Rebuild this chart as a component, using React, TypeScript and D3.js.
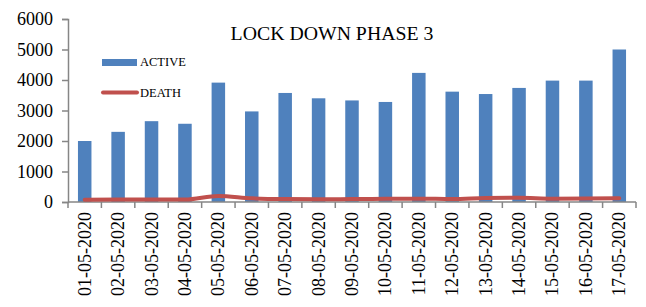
import React, { useEffect, useRef } from 'react';
import * as d3 from 'd3';

const DATES = [
    '01-05-2020', '02-05-2020', '03-05-2020', '04-05-2020', '05-05-2020', '06-05-2020',
    '07-05-2020', '08-05-2020', '09-05-2020', '10-05-2020', '11-05-2020', '12-05-2020',
    '13-05-2020', '14-05-2020', '15-05-2020', '16-05-2020', '17-05-2020',
];
const ACTIVE = [2000, 2300, 2650, 2565, 3914, 2970, 3575, 3400, 3330, 3280, 4233, 3618, 3540, 3740, 3980, 3980, 5000];
const DEATH = [75, 80, 85, 80, 200, 120, 95, 90, 95, 110, 110, 95, 130, 140, 110, 115, 125];
const Y_TICKS = [0, 1000, 2000, 3000, 4000, 5000, 6000];

const FONT = '"Liberation Serif", "Times New Roman", serif';
const AXIS_COLOR = '#868686';

export default function App()
{
    const svgRef = useRef(null);

    useEffect(() =>
    {
        const width = 646;
        const height = 307;
        const margin = { left: 68, right: 10, top: 19, bottom: 105 };
        const innerWidth = 636 - margin.left;
        const innerHeight = 202 - margin.top;

        const svg = d3.select(svgRef.current);
        svg.selectAll('*').remove();
        svg.attr('width', width).attr('height', height);

        const g = svg.append('g').attr('transform', `translate(${ margin.left },${ margin.top })`);

        const y = d3.scaleLinear().domain([0, 6000]).range([innerHeight, 0]);
        const step = innerWidth / DATES.length;

        // bars
        g.selectAll('rect.bar')
            .data(ACTIVE)
            .join('rect')
            .attr('class', 'bar')
            .attr('x', (d, i) => i * step + step / 2 - 6.75)
            .attr('width', 13.5)
            .attr('y', (d) => y(d))
            .attr('height', (d) => innerHeight - y(d))
            .attr('fill', '#4F81BD');

        // y axis
        const yAxis = g.append('g')
            .call(d3.axisLeft(y).tickValues(Y_TICKS).tickSize(6).tickPadding(9).tickFormat(d3.format('d')));
        yAxis.select('.domain').attr('stroke', AXIS_COLOR).attr('stroke-width', 1.5);
        yAxis.selectAll('line').attr('stroke', AXIS_COLOR).attr('stroke-width', 1.5);
        yAxis.selectAll('text')
            .attr('font-family', FONT).attr('font-size', 18).attr('fill', '#000');

        // x axis: ticks on category boundaries
        const xg = g.append('g').attr('transform', `translate(0,${ innerHeight })`);
        xg.append('line')
            .attr('x1', 0).attr('x2', innerWidth)
            .attr('stroke', AXIS_COLOR).attr('stroke-width', 1.5);
        xg.selectAll('line.tick')
            .data(d3.range(DATES.length + 1))
            .join('line')
            .attr('class', 'tick')
            .attr('x1', (i) => i * step).attr('x2', (i) => i * step)
            .attr('y1', 0).attr('y2', 6)
            .attr('stroke', AXIS_COLOR).attr('stroke-width', 1.5);
        xg.selectAll('text')
            .data(DATES)
            .join('text')
            .attr('transform', (d, i) => `translate(${ i * step + step / 2 + 6 },10) rotate(-90)`)
            .attr('text-anchor', 'end')
            .attr('font-family', FONT)
            .attr('font-size', 18)
            .text((d) => d);

        // death line
        const line = d3.line()
            .x((d, i) => i * step + step / 2)
            .y((d) => y(d))
            .curve(d3.curveMonotoneX);
        g.append('path')
            .datum(DEATH)
            .attr('fill', 'none')
            .attr('stroke', '#C0504D')
            .attr('stroke-width', 4)
            .attr('stroke-linecap', 'round')
            .attr('d', line);

        // title
        svg.append('text')
            .attr('x', 332).attr('y', 40)
            .attr('text-anchor', 'middle')
            .attr('font-family', FONT)
            .attr('font-size', 19.8)
            .text('LOCK DOWN PHASE 3');

        // legend
        const legend = svg.append('g');
        legend.append('rect')
            .attr('x', 102).attr('y', 59).attr('width', 35).attr('height', 7)
            .attr('fill', '#4F81BD');
        legend.append('text')
            .attr('x', 140).attr('y', 66)
            .attr('font-family', FONT).attr('font-size', 12.5)
            .text('ACTIVE');
        legend.append('line')
            .attr('x1', 103).attr('x2', 137).attr('y1', 92.5).attr('y2', 92.5)
            .attr('stroke', '#C0504D').attr('stroke-width', 4).attr('stroke-linecap', 'round');
        legend.append('text')
            .attr('x', 140).attr('y', 97)
            .attr('font-family', FONT).attr('font-size', 12.5)
            .text('DEATH');
    }, []);

    return (
        <svg ref={ svgRef } style={ { position: 'absolute', left: 0, top: 0 } } />
    );
}
